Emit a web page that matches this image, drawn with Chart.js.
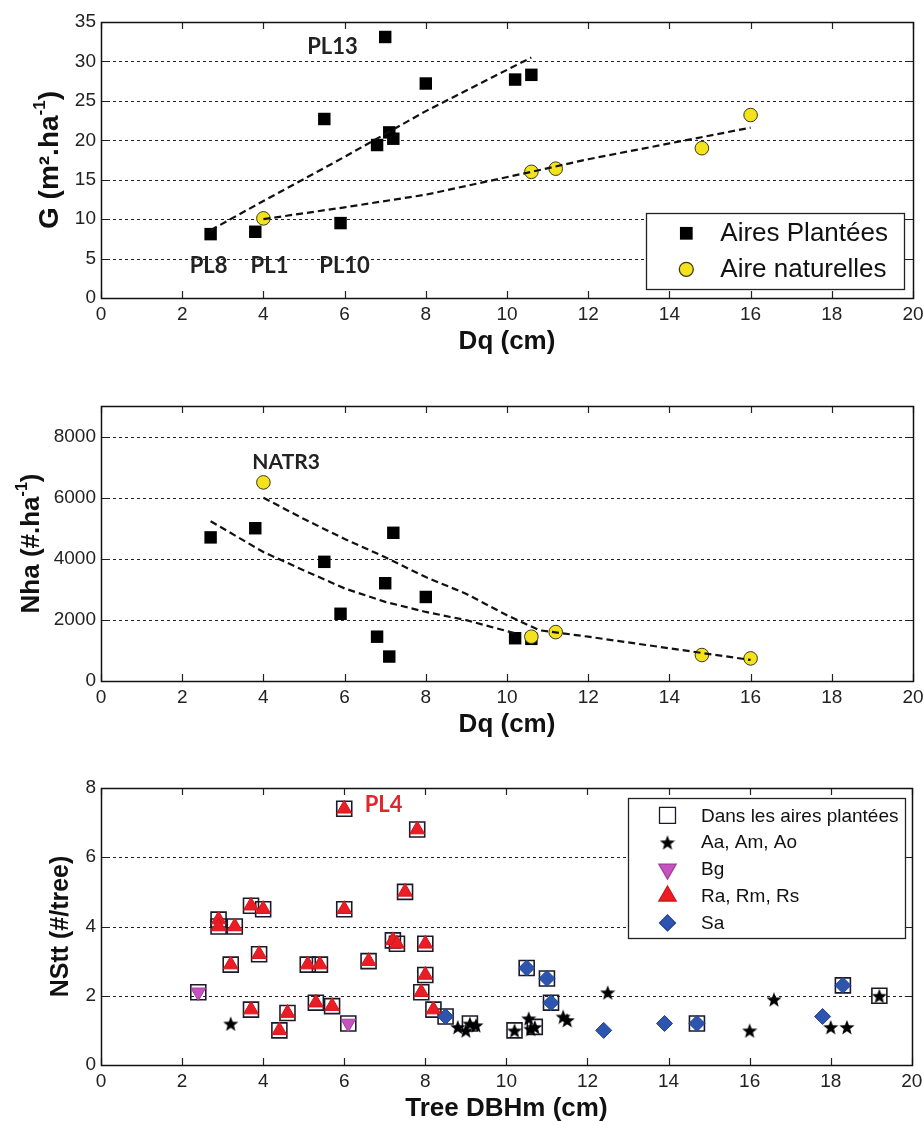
<!DOCTYPE html>
<html>
<head>
<meta charset="utf-8">
<title>G, Nha, NStt vs Dq</title>
<script src="https://cdn.jsdelivr.net/npm/chart.js@4.4.1/dist/chart.umd.min.js"></script>
<style>
  body { margin: 0; background: #fff; }
  #page { position: relative; width: 924px; height: 1121px; }
  canvas { position: absolute; left: 0; }
</style>
</head>
<body>
<div id="page">
  <canvas id="chart_g" width="924" height="360" style="top:0;width:924px;height:360px"></canvas>
  <canvas id="chart_nha" width="924" height="390" style="top:360px;width:924px;height:390px"></canvas>
  <canvas id="chart_nstt" width="924" height="371" style="top:750px;width:924px;height:371px"></canvas>
</div>
<script>
// ---- data ----
var dqTicks = [0, 2, 4, 6, 8, 10, 12, 14, 16, 18, 20];

// top chart : G (m2/ha) vs Dq (cm)
var gTicks = [0, 5, 10, 15, 20, 25, 30, 35];
var plantedDq = [2.7, 3.8, 5.5, 5.9, 6.8, 7.0, 7.1, 7.2, 8.0, 10.2, 10.6];
var plantedG = [8.1, 8.4, 22.7, 9.5, 19.4, 33.1, 21.0, 20.2, 27.2, 27.7, 28.3];
var naturalDq = [4.0, 10.6, 11.2, 14.8, 16.0];
var naturalG = [10.1, 16.0, 16.4, 19.0, 23.2];
var plantedFitDq = [2.7, 4, 6, 8, 10.6];
var plantedFitG = [8.6, 12.3, 17.9, 23.7, 30.5];
var naturalFitDq = [4, 6, 8, 10.6, 12, 14, 16];
var naturalFitG = [10.0, 11.5, 13.1, 16.0, 17.6, 19.6, 21.6];
var gNotes = ['PL13', 'PL8', 'PL1', 'PL10'];
var gNotesDq = [5.7, 2.65, 4.15, 6.0];
var gNotesG = [31.8, 4.1, 4.1, 4.1];

// middle chart : Nha (#/ha) vs Dq (cm)
var nhaTicks = [0, 2000, 4000, 6000, 8000];
var plantedNhaDq = [2.7, 3.8, 5.5, 5.9, 6.8, 7.0, 7.1, 7.2, 8.0, 10.2, 10.6];
var plantedNha = [4700, 5000, 3900, 2200, 1450, 3200, 800, 4850, 2750, 1400, 1380];
var naturalNhaDq = [4.0, 10.6, 11.2, 14.8, 16.0];
var naturalNha = [6500, 1450, 1600, 850, 740];
var plantedNhaFitDq = [2.7, 4, 5, 6, 7, 8, 9, 10.2];
var plantedNhaFit = [5230, 4220, 3620, 3030, 2590, 2260, 1990, 1560];
var naturalNhaFitDq = [4, 5, 6, 7, 8, 9, 10, 10.8, 12, 14, 16];
var naturalNhaFit = [6000, 5300, 4650, 4050, 3400, 2850, 2150, 1660, 1450, 1070, 690];

// bottom chart : NStt (#/tree) vs tree DBHm (cm)
var nsttTicks = [0, 2, 4, 6, 8];
var aaDbh = [3.2, 8.8, 9.0, 9.1, 9.25, 10.2, 10.55, 10.6, 10.7, 11.4, 11.5, 12.5, 16.0, 16.6, 18.0, 18.4, 19.2];
var aaNstt = [1.2, 1.1, 1.0, 1.2, 1.15, 1.0, 1.35, 1.05, 1.1, 1.4, 1.3, 2.1, 1.0, 1.9, 1.1, 1.1, 2.0];
var aaPlanted = [0, 0, 0, 1, 0, 1, 0, 0, 1, 0, 0, 0, 0, 0, 0, 0, 1];
var bgDbh = [2.4, 6.1];
var bgNstt = [2.1, 1.2];
var raDbh = [2.9, 2.9, 3.3, 3.7, 4.0, 6.0, 3.9, 3.2, 5.1, 5.4, 6.6, 7.2, 7.3, 8.0, 8.0, 7.9, 8.2, 3.7, 4.6, 4.4, 5.3, 5.7, 6.0, 7.8, 7.5];
var raNstt = [4.2, 4.0, 4.0, 4.6, 4.5, 4.5, 3.2, 2.9, 2.9, 2.9, 3.0, 3.6, 3.5, 3.5, 2.6, 2.1, 1.6, 1.6, 1.5, 1.0, 1.8, 1.7, 7.4, 6.8, 5.0];
var saDbh = [8.5, 10.5, 11.0, 11.1, 12.4, 13.9, 14.7, 17.8, 18.3];
var saNstt = [1.4, 2.8, 2.5, 1.8, 1.0, 1.2, 1.2, 1.4, 2.3];
var saPlanted = [1, 1, 1, 1, 0, 0, 1, 0, 1];
var nsttNotes = ['PL4'];
var nsttNotesDbh = [6.97];
var nsttNotesVal = [7.5];

// ---- helpers ----
var fam = '"Liberation Sans", Arial, sans-serif';
var noteFam = 'Lato, "Open Sans", sans-serif';

function pts(xs, ys) {
  return xs.map(function (v, i) { return {x: v, y: ys[i]}; });
}
function flagged(xs, ys, flags) {
  return pts(xs, ys).filter(function (p, i) { return flags[i]; });
}

function starImage(size) {
  var c = document.createElement('canvas');
  c.width = size; c.height = size;
  var g = c.getContext('2d');
  g.fillStyle = '#000';
  g.beginPath();
  for (var i = 0; i < 10; i++) {
    var r = i % 2 ? size * 0.21 : size / 2;
    var a = -Math.PI / 2 + i * Math.PI / 5;
    g.lineTo(size / 2 + r * Math.cos(a), size / 2 + 1 + r * Math.sin(a));
  }
  g.closePath();
  g.fill();
  return c;
}
var star = starImage(16);

function fitLine(xs, ys) {
  return {
    data: pts(xs, ys), showLine: true, borderColor: '#111', borderWidth: 2.2,
    borderDash: [7, 4], pointRadius: 0, fill: false, order: 0
  };
}

function axes(yMin, yMax, yTicks, yWidth, xHeight) {
  return {
    x: {
      type: 'linear', min: 0, max: 20,
      grid: {display: false, drawTicks: false}, border: {display: false},
      afterBuildTicks: function (s) { s.ticks = dqTicks.map(function (v) { return {value: v}; }); },
      afterFit: function (s) { s.height = xHeight; s.paddingLeft = 0; s.paddingRight = 0; },
      ticks: {font: {family: fam, size: 19}, color: '#222', padding: 5, maxRotation: 0, autoSkip: false,
              callback: function (v) { return String(v); }}
    },
    y: {
      type: 'linear', min: yMin, max: yMax,
      grid: {display: false, drawTicks: false}, border: {display: false},
      afterBuildTicks: function (s) { s.ticks = yTicks.map(function (v) { return {value: v}; }); },
      afterFit: function (s) { s.width = yWidth; s.paddingTop = 0; s.paddingBottom = 0; },
      ticks: {font: {family: fam, size: 19}, color: '#222', padding: 5, autoSkip: false,
              callback: function (v) { return String(v); }}
    }
  };
}

function drawYTitle(ctx, cx, cy, parts, size) {
  var big = 'bold ' + size + 'px ' + fam;
  var small = 'bold ' + Math.round(size * 0.62) + 'px ' + fam;
  ctx.save();
  ctx.translate(cx, cy);
  ctx.rotate(-Math.PI / 2);
  var total = 0;
  parts.forEach(function (p) { ctx.font = p[1] ? small : big; total += ctx.measureText(p[0]).width; });
  var x = -total / 2;
  ctx.textAlign = 'left';
  ctx.textBaseline = 'middle';
  ctx.fillStyle = '#111';
  parts.forEach(function (p) {
    ctx.font = p[1] ? small : big;
    ctx.fillText(p[0], x, p[1] ? -size * 0.36 : 0);
    x += ctx.measureText(p[0]).width;
  });
  ctx.restore();
}

// matlab-like frame : dotted grid, box, inward ticks, titles, notes, legend
function framePlugin(cfg) {
  return {
    id: 'frame',
    beforeDatasetsDraw: function (chart) {
      var ctx = chart.ctx, a = chart.chartArea, y = chart.scales.y;
      ctx.save();
      ctx.strokeStyle = '#222';
      ctx.lineWidth = 1;
      ctx.setLineDash([3, 3]);
      y.ticks.forEach(function (t) {
        if (t.value === y.min || t.value === y.max) return;
        var py = Math.round(y.getPixelForValue(t.value)) + 0.5;
        ctx.beginPath(); ctx.moveTo(a.left, py); ctx.lineTo(a.right, py); ctx.stroke();
      });
      ctx.restore();
    },
    afterDraw: function (chart) {
      var ctx = chart.ctx, a = chart.chartArea, x = chart.scales.x, y = chart.scales.y;
      ctx.save();
      // ticks
      ctx.strokeStyle = '#222';
      ctx.lineWidth = 1.2;
      x.ticks.forEach(function (t) {
        var px = Math.round(x.getPixelForValue(t.value)) + 0.5;
        ctx.beginPath();
        ctx.moveTo(px, a.bottom); ctx.lineTo(px, a.bottom - 7);
        ctx.moveTo(px, a.top); ctx.lineTo(px, a.top + 7);
        ctx.stroke();
      });
      y.ticks.forEach(function (t) {
        var py = Math.round(y.getPixelForValue(t.value)) + 0.5;
        ctx.beginPath();
        ctx.moveTo(a.left, py); ctx.lineTo(a.left + 7, py);
        ctx.moveTo(a.right, py); ctx.lineTo(a.right - 7, py);
        ctx.stroke();
      });
      // box
      ctx.lineWidth = 1.5;
      ctx.strokeStyle = '#111';
      ctx.strokeRect(Math.round(a.left) + 0.5, Math.round(a.top) + 0.5, Math.round(a.right - a.left), Math.round(a.bottom - a.top));
      // x title
      ctx.fillStyle = '#111';
      ctx.font = 'bold 26px ' + fam;
      ctx.textAlign = 'center';
      ctx.textBaseline = 'middle';
      ctx.fillText(cfg.xTitle, (a.left + a.right) / 2, a.bottom + 44);
      // y title
      drawYTitle(ctx, a.left - cfg.yTitleGap, (a.top + a.bottom) / 2, cfg.yTitle, cfg.yTitleSize);
      // notes
      (cfg.notes || []).forEach(function (n) {
        ctx.font = 'bold ' + n.size + 'px ' + noteFam;
        ctx.fillStyle = n.color;
        ctx.textAlign = 'center';
        ctx.textBaseline = 'middle';
        ctx.fillText(n.text, x.getPixelForValue(n.x), y.getPixelForValue(n.y));
      });
      // legend
      var lg = cfg.legend;
      if (lg) {
        var bx = a.right - lg.right - lg.w, by = lg.top !== undefined ? a.top + lg.top : a.bottom - lg.bottom - lg.h;
        ctx.setLineDash([]);
        ctx.fillStyle = '#fff';
        ctx.fillRect(bx, by, lg.w, lg.h);
        ctx.lineWidth = 1.3;
        ctx.strokeStyle = '#222';
        ctx.strokeRect(Math.round(bx) + 0.5, Math.round(by) + 0.5, Math.round(lg.w), Math.round(lg.h));
        lg.items.forEach(function (it, i) {
          var ds = chart.data.datasets[it.dataset];
          var cy = by + lg.first + i * lg.step;
          ctx.save();
          ctx.fillStyle = ds.backgroundColor;
          ctx.strokeStyle = ds.borderColor || ds.backgroundColor;
          Chart.helpers.drawPoint(ctx, {
            pointStyle: ds.pointStyle, rotation: ds.rotation || 0,
            radius: it.radius, borderWidth: ds.borderWidth || 0
          }, bx + lg.markerX, cy);
          ctx.restore();
          ctx.fillStyle = '#111';
          ctx.font = lg.font + 'px ' + fam;
          ctx.textAlign = 'left';
          ctx.textBaseline = 'middle';
          ctx.fillText(it.label, bx + lg.textX, cy + 1);
        });
      }
      ctx.restore();
    }
  };
}

function baseOptions(top, yMin, yMax, yTicks, xHeight) {
  return {
    responsive: false, animation: false, events: [],
    layout: {padding: {top: top, right: 11, bottom: 0, left: 0}},
    plugins: {legend: {display: false}, tooltip: {enabled: false}},
    scales: axes(yMin, yMax, yTicks, 101, xHeight)
  };
}

function notesFrom(texts, xs, ys, color, size) {
  return texts.map(function (t, i) { return {text: t, x: xs[i], y: ys[i], color: color, size: size}; });
}

// ---- top chart ----
new Chart(document.getElementById('chart_g'), {
  type: 'scatter',
  data: {
    datasets: [
      fitLine(plantedFitDq, plantedFitG),
      fitLine(naturalFitDq, naturalFitG),
      {label: 'Aires Plantées', data: pts(plantedDq, plantedG), pointStyle: 'rect', pointRadius: 8.8,
       backgroundColor: '#000', borderColor: '#000', borderWidth: 0, order: 1},
      {label: 'Aire naturelles', data: pts(naturalDq, naturalG), pointStyle: 'circle', pointRadius: 6.8,
       backgroundColor: '#f3e21c', borderColor: '#3a3a1a', borderWidth: 1, order: 1}
    ]
  },
  options: baseOptions(22, 0, 35, gTicks, 62),
  plugins: [framePlugin({
    xTitle: 'Dq (cm)', yTitleGap: 51, yTitleSize: 28,
    yTitle: [['G (m².ha', false], ['-1', true], [')', false]],
    notes: notesFrom(gNotes, gNotesDq, gNotesG, '#222', 22),
    legend: {right: 8.7, bottom: 8.7, w: 258, h: 76, first: 20, step: 36, markerX: 40, textX: 74, font: 26,
             items: [{label: 'Aires Plantées', dataset: 2, radius: 9}, {label: 'Aire naturelles', dataset: 3, radius: 7}]}
  })]
});

// ---- middle chart ----
new Chart(document.getElementById('chart_nha'), {
  type: 'scatter',
  data: {
    datasets: [
      fitLine(plantedNhaFitDq, plantedNhaFit),
      fitLine(naturalNhaFitDq, naturalNhaFit),
      {label: 'Aire naturelles', data: pts(naturalNhaDq, naturalNha), pointStyle: 'circle', pointRadius: 6.8,
       backgroundColor: '#f3e21c', borderColor: '#3a3a1a', borderWidth: 1, order: 1},
      {label: 'Aires Plantées', data: pts(plantedNhaDq, plantedNha), pointStyle: 'rect', pointRadius: 8.8,
       backgroundColor: '#000', borderColor: '#000', borderWidth: 0, order: 2}
    ]
  },
  options: baseOptions(46, 0, 9000, nhaTicks, 69),
  plugins: [framePlugin({
    xTitle: 'Dq (cm)', yTitleGap: 69, yTitleSize: 26,
    yTitle: [['Nha (#.ha', false], ['-1', true], [')', false]],
    notes: notesFrom(['NATR3'], [4.56], [7150], '#222', 21)
  })]
});

// ---- bottom chart ----
var plantedTrees = pts(raDbh, raNstt).concat(pts(bgDbh, bgNstt), flagged(aaDbh, aaNstt, aaPlanted), flagged(saDbh, saNstt, saPlanted));

new Chart(document.getElementById('chart_nstt'), {
  type: 'scatter',
  data: {
    datasets: [
      {label: 'Dans les aires plantées', data: plantedTrees, pointStyle: 'rect', pointRadius: 10.6,
       backgroundColor: 'rgba(0,0,0,0)', borderColor: '#1a1a2a', borderWidth: 1.6, order: 3},
      {label: 'Aa, Am, Ao', data: pts(aaDbh, aaNstt), pointStyle: star, pointRadius: 8,
       backgroundColor: '#000', borderColor: '#000', order: 1},
      {label: 'Bg', data: pts(bgDbh, bgNstt), pointStyle: 'triangle', rotation: 180, pointRadius: 8.5,
       backgroundColor: '#c653c0', borderColor: '#a23e9c', borderWidth: 1, order: 1},
      {label: 'Ra, Rm, Rs', data: pts(raDbh, raNstt), pointStyle: 'triangle', pointRadius: 8.5,
       backgroundColor: '#ec1c24', borderColor: '#d0161c', borderWidth: 1, order: 1},
      {label: 'Sa', data: pts(saDbh, saNstt), pointStyle: 'rectRot', pointRadius: 8,
       backgroundColor: '#2d55b0', borderColor: '#1f3f8f', borderWidth: 1, order: 1}
    ]
  },
  options: baseOptions(38, 0, 8, nsttTicks, 56),
  plugins: [framePlugin({
    xTitle: 'Tree DBHm (cm)', yTitleGap: 40, yTitleSize: 25,
    yTitle: [['NStt (#/tree)', false]],
    notes: notesFrom(nsttNotes, nsttNotesDbh, nsttNotesVal, '#e0262c', 22),
    legend: {right: 7.3, top: 10.3, w: 277, h: 140, first: 17, step: 26.9, markerX: 40, textX: 73.5, font: 19,
             items: [{label: 'Dans les aires plantées', dataset: 0, radius: 11.3},
                     {label: 'Aa, Am, Ao', dataset: 1, radius: 8},
                     {label: 'Bg', dataset: 2, radius: 10},
                     {label: 'Ra, Rm, Rs', dataset: 3, radius: 10},
                     {label: 'Sa', dataset: 4, radius: 8}]}
  })]
});
</script>
</body>
</html>
